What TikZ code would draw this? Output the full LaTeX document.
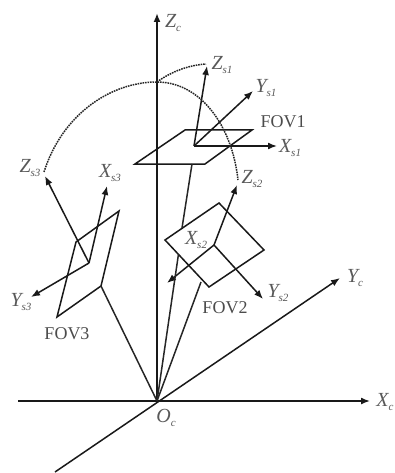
\documentclass[tikz,border=0pt]{standalone}
\usepackage{fontspec}
\setmainfont{Liberation Serif}
\usetikzlibrary{arrows.meta}
\tikzset{
  axis/.style={-{Latex[length=9pt,width=7pt]}, line width=1.5pt, draw=black!90},
  fovedge/.style={line width=1.5pt, draw=black!90, line join=miter},
  ray/.style={line width=1.5pt, draw=black!85},
  arcdash/.style={line width=1.5pt, draw=black!85, dash pattern=on 1.6pt off 0.9pt},
  lab/.style={font=\fontsize{20}{20}\selectfont\itshape, text=black!65, inner sep=0pt},
  fovlab/.style={font=\fontsize{18}{18}\selectfont, text=black!70, inner sep=0pt},
}
\newcommand{\subl}[2]{#1\raisebox{-4pt}{\fontsize{11}{11}\selectfont #2}}
\begin{document}
\begin{tikzpicture}[x=1pt,y=-1pt]
\useasboundingbox (0,0) rectangle (395,473);

%% camera frame
\coordinate (oc) at (157,401);
\coordinate (zc) at (157,13);
\coordinate (xl) at (18,401);
\coordinate (xc) at (370,401);
\coordinate (yl) at (55,472);
\coordinate (yc) at (340,278);

\draw[axis, line width=1.9pt] (oc) -- (zc);
\draw[axis] (xl) -- (xc);
\draw[axis] (yl) -- (yc);

%% FOV1
\coordinate (f1a) at (185,130);
\coordinate (f1b) at (252,130);
\coordinate (f1c) at (205,164);
\coordinate (f1d) at (135,164);
\coordinate (o1)  at (194,146);
\coordinate (z1)  at (207,66);
\coordinate (y1)  at (253,91);
\coordinate (x1)  at (277,146);
\draw[fovedge] (f1a) -- (f1b) -- (f1c) -- (f1d) -- cycle;
\draw[axis] (o1) -- (z1);
\draw[axis] (o1) -- (y1);
\draw[axis] (o1) -- (x1);

%% FOV2
\coordinate (f2a) at (219,203);
\coordinate (f2b) at (264,250);
\coordinate (f2c) at (209,287);
\coordinate (f2d) at (165,240);
\coordinate (o2)  at (214,245);
\coordinate (z2)  at (237,185);
\coordinate (x2)  at (167,283);
\coordinate (y2)  at (263,299);
\draw[fovedge] (f2a) -- (f2b) -- (f2c) -- (f2d) -- cycle;
\draw[axis] (o2) -- (z2);
\draw[axis] (o2) -- (x2);
\draw[axis] (o2) -- (y2);

%% FOV3
\coordinate (f3a) at (119,211);
\coordinate (f3b) at (101,286);
\coordinate (f3c) at (57,317);
\coordinate (f3d) at (76,242);
\coordinate (o3)  at (89,263);
\coordinate (z3)  at (45,176);
\coordinate (x3)  at (107,186);
\coordinate (y3)  at (31,297);
\draw[fovedge] (f3a) -- (f3b) -- (f3c) -- (f3d) -- cycle;
\draw[axis] (o3) -- (z3);
\draw[axis] (o3) -- (x3);
\draw[axis] (o3) -- (y3);

%% rays from the origin
\coordinate (r1a) at (178.5,254);
\coordinate (r1b) at (182,228);
\coordinate (r1c) at (192,164);
\coordinate (r2)  at (201,282);
\draw[ray] (oc) -- (r1a);
\draw[ray] (r1b) -- (r1c);
\draw[ray] (oc) -- (r2);
\draw[ray] (oc) -- (f3b);

%% dotted arcs
\coordinate (top) at (157,82);
\draw[arcdash] (44,172) .. controls (62,115) and (110,82) .. (top)
               .. controls (200,82) and (232,125) .. (238,180);
\draw[arcdash] (top) .. controls (172,71) and (190,65) .. (206,64);

%% labels
\node[lab] (lzc) at (173,23)  {\subl{Z}{c}};
\node[lab] (lxc) at (385,402) {\subl{X}{c}};
\node[lab] (lyc) at (355,278) {\subl{Y}{c}};
\node[lab] (loc) at (166,418) {\subl{O}{c}};
\node[lab] (lz1) at (222,65)  {\subl{Z}{s1}};
\node[lab] (ly1) at (266,88)  {\subl{Y}{s1}};
\node[lab] (lx1) at (290,148) {\subl{X}{s1}};
\node[lab] (lz2) at (252,179) {\subl{Z}{s2}};
\node[lab] (lx2) at (196,240) {\subl{X}{s2}};
\node[lab] (ly2) at (278,293) {\subl{Y}{s2}};
\node[lab] (lz3) at (30,168)  {\subl{Z}{s3}};
\node[lab] (lx3) at (110,173) {\subl{X}{s3}};
\node[lab] (ly3) at (21,302)  {\subl{Y}{s3}};
\node[fovlab] (fov1) at (283,122) {FOV1};
\node[fovlab] (fov2) at (225,308) {FOV2};
\node[fovlab] (fov3) at (67,334)  {FOV3};

\end{tikzpicture}
\end{document}
